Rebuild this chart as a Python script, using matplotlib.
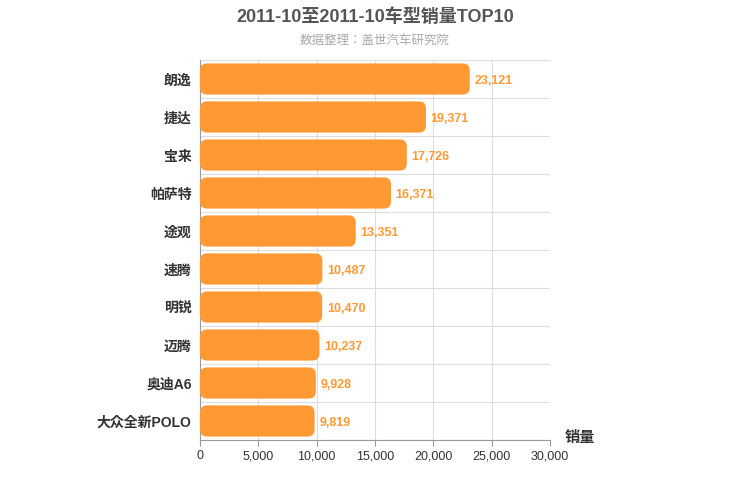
import matplotlib
matplotlib.use("Agg")
import matplotlib.pyplot as plt
from matplotlib.patches import FancyBboxPatch

plt.rcParams["font.family"] = ["Liberation Sans", "Noto Sans CJK JP", "Noto Sans CJK SC"]

models = ["朗逸", "捷达", "宝来", "帕萨特", "途观", "速腾", "明锐", "迈腾", "奥迪A6", "大众全新POLO"]
sales = [23121, 19371, 17726, 16371, 13351, 10487, 10470, 10237, 9928, 9819]
xticks = [0, 5000, 10000, 15000, 20000, 25000, 30000]

color = "#FF9933"
fig = plt.figure(figsize=(7.5, 5), dpi=100)
ax = fig.add_axes([200 / 750, 60 / 500, 350 / 750, 380 / 500])
ax.set_xlim(0, 30000)
ax.set_ylim(len(models) - 0.5, -0.5)

aspect = (10 / 380) / (30000 / 350)
for i, (name, v) in enumerate(zip(models, sales)):
    h = 0.82
    box = FancyBboxPatch((0, i - h / 2), v, h, boxstyle="round,pad=0,rounding_size=600",
                         mutation_aspect=aspect, facecolor=color, edgecolor="none", zorder=3)
    ax.add_patch(box)
    ax.text(v + 400, i + 0.05, f"{v:,}", va="center", ha="left", color=color,
            fontsize=9, fontweight="bold", zorder=4)

ax.set_yticks(range(len(models)))
ax.set_yticklabels(models, fontsize=10, fontweight="bold", color="#333333")
ax.set_xticks(xticks)
ax.set_xticklabels([f"{x:,}" for x in xticks], fontsize=9, color="#333333")
for x in xticks[1:]:
    ax.axvline(x, color="#dddddd", lw=0.8, zorder=1)
for k in range(len(models) + 1):
    ax.axhline(k - 0.5, color="#dddddd", lw=0.8, zorder=1)
for s in ["top", "right"]:
    ax.spines[s].set_visible(False)
ax.spines["left"].set_color("#999999")
ax.spines["bottom"].set_color("#999999")
ax.tick_params(axis="y", length=0, pad=6)
ax.tick_params(axis="x", length=4, color="#999999")

fig.text(0.5, 0.965, "2011-10至2011-10车型销量TOP10", ha="center", va="center",
         fontsize=13, fontweight="bold", color="#555555")
fig.text(0.5, 0.918, "数据整理：盖世汽车研究院", ha="center", va="center",
         fontsize=9, color="#aaaaaa")
fig.text(580 / 750, 1 - 438 / 500, "销量", ha="center", va="center",
         fontsize=11, fontweight="bold", color="#333333")

fig.savefig("out.png", dpi=100)
